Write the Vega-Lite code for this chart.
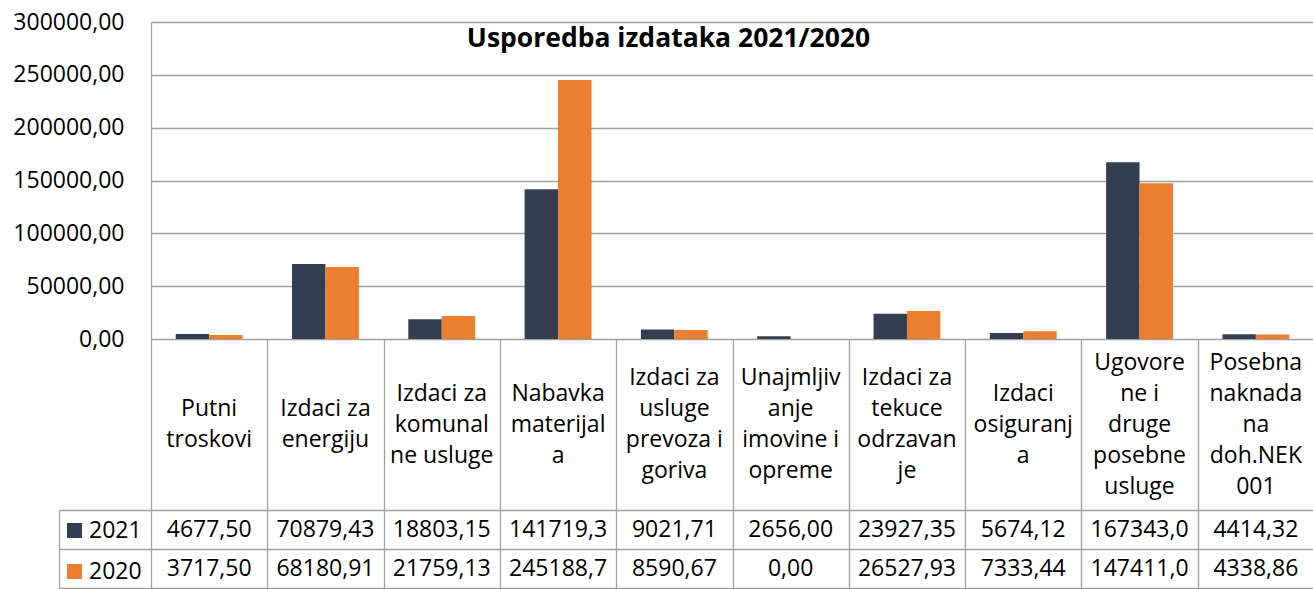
{
  "$schema": "https://vega.github.io/schema/vega-lite/v6.json",
  "padding": {"left": 12, "top": 11, "right": 0, "bottom": 0},
  "spacing": 0,
  "bounds": "flush",
  "config": {
    "view": {"stroke": null},
    "font": "Open Sans",
    "locale": {"number": {"decimal": ",", "thousands": "", "grouping": [3], "currency": ["", ""]}}
  },
  "datasets": {
    "izdaci": [
      {"cat": "Putni troskovi", "year": "2021", "value": 4677.50},
      {"cat": "Izdaci za energiju", "year": "2021", "value": 70879.43},
      {"cat": "Izdaci za komunalne usluge", "year": "2021", "value": 18803.15},
      {"cat": "Nabavka materijala", "year": "2021", "value": 141719.30},
      {"cat": "Izdaci za usluge prevoza i goriva", "year": "2021", "value": 9021.71},
      {"cat": "Unajmljivanje imovine i opreme", "year": "2021", "value": 2656.00},
      {"cat": "Izdaci za tekuce odrzavanje", "year": "2021", "value": 23927.35},
      {"cat": "Izdaci osiguranja", "year": "2021", "value": 5674.12},
      {"cat": "Ugovorene i druge posebne usluge", "year": "2021", "value": 167343.00},
      {"cat": "Posebna naknada na doh.NEK 001", "year": "2021", "value": 4414.32},
      {"cat": "Putni troskovi", "year": "2020", "value": 3717.50},
      {"cat": "Izdaci za energiju", "year": "2020", "value": 68180.91},
      {"cat": "Izdaci za komunalne usluge", "year": "2020", "value": 21759.13},
      {"cat": "Nabavka materijala", "year": "2020", "value": 245188.70},
      {"cat": "Izdaci za usluge prevoza i goriva", "year": "2020", "value": 8590.67},
      {"cat": "Unajmljivanje imovine i opreme", "year": "2020", "value": 0.00},
      {"cat": "Izdaci za tekuce odrzavanje", "year": "2020", "value": 26527.93},
      {"cat": "Izdaci osiguranja", "year": "2020", "value": 7333.44},
      {"cat": "Ugovorene i druge posebne usluge", "year": "2020", "value": 147411.00},
      {"cat": "Posebna naknada na doh.NEK 001", "year": "2020", "value": 4338.86}
    ],
    "labels": [
      {"cat": "Putni troskovi", "label": "Putni\ntroskovi"},
      {"cat": "Izdaci za energiju", "label": "Izdaci za\nenergiju"},
      {"cat": "Izdaci za komunalne usluge", "label": "Izdaci za\nkomunal\nne usluge"},
      {"cat": "Nabavka materijala", "label": "Nabavka\nmaterijal\na"},
      {"cat": "Izdaci za usluge prevoza i goriva", "label": "Izdaci za\nusluge\nprevoza i\ngoriva"},
      {"cat": "Unajmljivanje imovine i opreme", "label": "Unajmljiv\nanje\nimovine i\nopreme"},
      {"cat": "Izdaci za tekuce odrzavanje", "label": "Izdaci za\ntekuce\nodrzavan\nje"},
      {"cat": "Izdaci osiguranja", "label": "Izdaci\nosiguranj\na"},
      {"cat": "Ugovorene i druge posebne usluge", "label": "Ugovore\nne i\ndruge\nposebne\nusluge"},
      {"cat": "Posebna naknada na doh.NEK 001", "label": "Posebna\nnaknada\nna\ndoh.NEK\n001"}
    ]
  },
  "vconcat": [
    {
      "width": 1163,
      "height": 317,
      "data": {"name": "izdaci"},
      "title": {"text": "Usporedba izdataka 2021/2020", "fontSize": 26.5, "fontWeight": "bold", "font": "Open Sans", "color": "#000000", "anchor": "middle", "dx": -64, "offset": -62, "baseline": "alphabetic"},
      "mark": {"type": "bar"},
      "encoding": {
        "x": {"field": "cat", "type": "nominal", "sort": null, "scale": {"paddingInner": 0.425, "paddingOuter": 0.2125}, "axis": null},
        "xOffset": {"field": "year", "type": "nominal", "sort": ["2021", "2020"]},
        "y": {"field": "value", "type": "quantitative", "scale": {"domain": [0, 300000], "nice": false},
          "axis": {"values": [0, 50000, 100000, 150000, 200000, 250000, 300000], "title": null, "grid": true, "gridColor": "#a0a0a0", "gridWidth": 1.3, "domain": true, "domainColor": "#a0a0a0", "domainWidth": 1.3, "ticks": false, "labelExpr": "replace(format(datum.value, '.2f'), '.', ',')", "labelFontSize": 23, "labelColor": "#000000", "labelPadding": 27, "labelFont": "Open Sans"}},
        "color": {"field": "year", "type": "nominal", "scale": {"domain": ["2021", "2020"], "range": ["#333f50", "#ed7d31"]},
          "legend": {"title": null, "orient": "none", "legendX": -88, "legendY": 497, "symbolType": "square", "symbolSize": 225, "symbolStrokeWidth": 0, "labelFontSize": 23, "labelColor": "#000000", "labelFont": "Open Sans", "rowPadding": 17, "labelOffset": 3, "padding": 0}}
      }
    },
    {
      "width": 1163,
      "height": 171,
      "data": {"name": "labels"},
      "mark": {"type": "text", "lineBreak": "\n", "fontSize": 23, "lineHeight": 31, "font": "Open Sans", "color": "#000000", "align": "center", "baseline": "middle", "dy": {"expr": "-(length(split(datum.label, '\\n')) - 1) * 15.5"}},
      "encoding": {
        "x": {"field": "cat", "type": "nominal", "sort": null, "scale": {"paddingInner": 0, "paddingOuter": 0},
          "axis": {"orient": "top", "tickBand": "extent", "grid": true, "gridColor": "#a0a0a0", "gridWidth": 1.3, "labels": false, "ticks": false, "domain": false, "title": null}},
        "text": {"field": "label"}
      }
    },
    {
      "width": 1163,
      "height": 78,
      "data": {"name": "izdaci"},
      "layer": [
        {
          "mark": {"type": "text", "fontSize": 23, "font": "Open Sans", "color": "#000000", "align": "center", "baseline": "middle", "limit": 106, "ellipsis": "\u200b"},
          "encoding": {
            "x": {"field": "cat", "type": "nominal", "sort": null, "scale": {"paddingInner": 0, "paddingOuter": 0},
              "axis": {"orient": "top", "tickBand": "extent", "grid": true, "gridColor": "#a0a0a0", "gridWidth": 1.3, "labels": false, "ticks": false, "domain": false, "title": null}},
            "y": {"field": "year", "type": "nominal", "sort": ["2021", "2020"], "scale": {"paddingInner": 0, "paddingOuter": 0},
              "axis": {"orient": "left", "tickBand": "extent", "grid": true, "gridColor": "#a0a0a0", "gridWidth": 1.3, "ticks": true, "tickSize": 92, "tickColor": "#a0a0a0", "tickWidth": 1.3, "labels": false, "domain": false, "title": null}},
            "text": {"field": "value", "type": "quantitative", "format": ".2f"}
          }
        },
        {
          "mark": {"type": "text", "text": ""},
          "encoding": {
            "y": {"field": "year", "type": "nominal", "sort": ["2021", "2020"], "scale": {"paddingInner": 0, "paddingOuter": 0},
              "axis": {"orient": "left", "offset": 92, "domain": true, "domainColor": "#a0a0a0", "domainWidth": 1.3, "ticks": false, "labels": false, "grid": false, "title": null}}
          }
        }
      ],
      "resolve": {"scale": {"y": "independent"}, "axis": {"y": "independent"}}
    }
  ],
  "resolve": {"scale": {"x": "independent", "color": "independent"}, "legend": {"color": "independent"}}
}
